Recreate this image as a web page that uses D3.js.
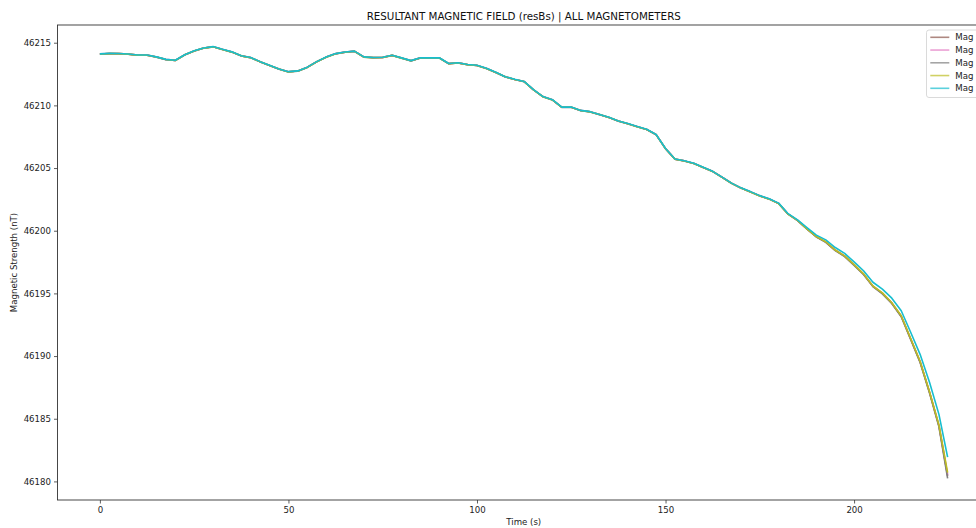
<!DOCTYPE html>
<html>
<head>
<meta charset="utf-8">
<script src="https://cdn.jsdelivr.net/npm/d3@7"></script>
<style>
  html, body { margin: 0; padding: 0; background: #ffffff; }
  svg { display: block; font-family: "DejaVu Sans", sans-serif; }
</style>
</head>
<body>
<svg id="chart" width="976" height="528"></svg>
<script>
// Sample times (s)
const timeS = [
  0, 2.5, 5, 7.5, 10, 12.5, 15, 17.5, 20, 22.5,
  25, 27.5, 30, 32.5, 35, 37.5, 40, 42.5, 45, 47.5,
  50, 52.5, 55, 57.5, 60, 62.5, 65, 67.5, 70, 72.5,
  75, 77.5, 80, 82.5, 85, 87.5, 90, 92.5, 95, 97.5,
  100, 102.5, 105, 107.5, 110, 112.5, 115, 117.5, 120, 122.5,
  125, 127.5, 130, 132.5, 135, 137.5, 140, 142.5, 145, 147.5,
  150, 152.5, 155, 157.5, 160, 162.5, 165, 167.5, 170, 172.5,
  175, 177.5, 180, 182.5, 185, 187.5, 190, 192.5, 195, 197.5,
  200, 202.5, 205, 207.5, 210, 212.5, 215, 217.5, 220, 222.5,
  224.8
];

// Resultant field per magnetometer (nT)
const magA = [
  46214.10, 46214.14, 46214.13, 46214.09, 46214.01, 46214.01, 46213.86, 46213.66, 46213.59, 46214.03,
  46214.34, 46214.57, 46214.68, 46214.46, 46214.26, 46213.95, 46213.81, 46213.48, 46213.19, 46212.90,
  46212.68, 46212.74, 46213.04, 46213.48, 46213.85, 46214.12, 46214.25, 46214.32, 46213.86, 46213.81,
  46213.83, 46213.99, 46213.78, 46213.56, 46213.79, 46213.78, 46213.79, 46213.33, 46213.39, 46213.25,
  46213.19, 46212.95, 46212.63, 46212.28, 46212.07, 46211.90, 46211.24, 46210.69, 46210.44, 46209.85,
  46209.86, 46209.59, 46209.49, 46209.27, 46209.04, 46208.75, 46208.54, 46208.30, 46208.08, 46207.67,
  46206.55, 46205.71, 46205.57, 46205.37, 46205.05, 46204.73, 46204.27, 46203.79, 46203.41, 46203.10,
  46202.78, 46202.53, 46202.17, 46201.33, 46200.82, 46200.14, 46199.51, 46199.09, 46198.44, 46197.97,
  46197.27, 46196.53, 46195.56, 46195.00, 46194.22, 46193.18, 46191.36, 46189.54, 46187.11, 46184.43,
  46180.45
];
const magB = [
  46214.11, 46214.14, 46214.14, 46214.10, 46214.01, 46214.02, 46213.86, 46213.67, 46213.59, 46214.04,
  46214.34, 46214.58, 46214.68, 46214.47, 46214.26, 46213.96, 46213.81, 46213.49, 46213.19, 46212.91,
  46212.68, 46212.75, 46213.04, 46213.49, 46213.85, 46214.13, 46214.25, 46214.33, 46213.86, 46213.82,
  46213.83, 46214.00, 46213.78, 46213.57, 46213.79, 46213.79, 46213.79, 46213.34, 46213.39, 46213.26,
  46213.19, 46212.96, 46212.63, 46212.29, 46212.07, 46211.91, 46211.24, 46210.70, 46210.44, 46209.86,
  46209.86, 46209.60, 46209.49, 46209.28, 46209.04, 46208.76, 46208.54, 46208.31, 46208.08, 46207.68,
  46206.55, 46205.72, 46205.57, 46205.38, 46205.05, 46204.74, 46204.27, 46203.80, 46203.41, 46203.11,
  46202.79, 46202.54, 46202.18, 46201.34, 46200.83, 46200.16, 46199.54, 46199.11, 46198.47, 46197.98,
  46197.29, 46196.55, 46195.57, 46195.02, 46194.24, 46193.20, 46191.38, 46189.57, 46187.13, 46184.46,
  46180.55
];
const magC = [
  46214.09, 46214.13, 46214.12, 46214.08, 46214.00, 46214.00, 46213.85, 46213.65, 46213.58, 46214.02,
  46214.33, 46214.56, 46214.67, 46214.45, 46214.25, 46213.94, 46213.80, 46213.47, 46213.18, 46212.89,
  46212.67, 46212.73, 46213.03, 46213.47, 46213.84, 46214.11, 46214.24, 46214.31, 46213.85, 46213.80,
  46213.82, 46213.98, 46213.77, 46213.55, 46213.78, 46213.77, 46213.78, 46213.32, 46213.38, 46213.24,
  46213.18, 46212.94, 46212.62, 46212.27, 46212.06, 46211.89, 46211.23, 46210.68, 46210.43, 46209.84,
  46209.85, 46209.58, 46209.48, 46209.26, 46209.03, 46208.74, 46208.53, 46208.29, 46208.07, 46207.66,
  46206.54, 46205.70, 46205.56, 46205.36, 46205.04, 46204.72, 46204.26, 46203.78, 46203.40, 46203.09,
  46202.77, 46202.52, 46202.16, 46201.32, 46200.81, 46200.13, 46199.50, 46199.07, 46198.41, 46197.94,
  46197.24, 46196.51, 46195.54, 46194.96, 46194.20, 46193.14, 46191.32, 46189.49, 46187.06, 46184.35,
  46180.24
];
const magD = [
  46214.10, 46214.13, 46214.13, 46214.09, 46214.01, 46214.00, 46213.86, 46213.66, 46213.58, 46214.03,
  46214.33, 46214.57, 46214.67, 46214.46, 46214.25, 46213.95, 46213.80, 46213.48, 46213.18, 46212.90,
  46212.67, 46212.74, 46213.03, 46213.48, 46213.84, 46214.12, 46214.24, 46214.32, 46213.85, 46213.81,
  46213.82, 46213.99, 46213.77, 46213.56, 46213.78, 46213.78, 46213.78, 46213.33, 46213.38, 46213.25,
  46213.18, 46212.95, 46212.62, 46212.28, 46212.06, 46211.90, 46211.23, 46210.69, 46210.43, 46209.85,
  46209.85, 46209.59, 46209.48, 46209.27, 46209.03, 46208.75, 46208.53, 46208.30, 46208.07, 46207.67,
  46206.54, 46205.71, 46205.56, 46205.37, 46205.04, 46204.73, 46204.26, 46203.79, 46203.40, 46203.09,
  46202.77, 46202.52, 46202.16, 46201.32, 46200.82, 46200.15, 46199.53, 46199.12, 46198.46, 46197.99,
  46197.30, 46196.56, 46195.59, 46195.04, 46194.25, 46193.22, 46191.40, 46189.59, 46187.16, 46184.50,
  46180.70
];
const magE = [
  46214.11, 46214.15, 46214.14, 46214.10, 46214.02, 46214.02, 46213.87, 46213.67, 46213.60, 46214.04,
  46214.35, 46214.58, 46214.69, 46214.47, 46214.27, 46213.96, 46213.82, 46213.49, 46213.20, 46212.91,
  46212.69, 46212.75, 46213.05, 46213.49, 46213.86, 46214.13, 46214.26, 46214.33, 46213.87, 46213.82,
  46213.84, 46214.00, 46213.79, 46213.57, 46213.80, 46213.79, 46213.80, 46213.34, 46213.40, 46213.26,
  46213.20, 46212.96, 46212.64, 46212.29, 46212.08, 46211.91, 46211.25, 46210.70, 46210.45, 46209.86,
  46209.87, 46209.60, 46209.50, 46209.28, 46209.05, 46208.76, 46208.55, 46208.31, 46208.09, 46207.68,
  46206.56, 46205.72, 46205.58, 46205.38, 46205.06, 46204.74, 46204.28, 46203.80, 46203.42, 46203.12,
  46202.80, 46202.55, 46202.20, 46201.36, 46200.87, 46200.25, 46199.65, 46199.27, 46198.66, 46198.19,
  46197.52, 46196.81, 46195.89, 46195.34, 46194.62, 46193.62, 46191.90, 46190.14, 46187.91, 46185.35,
  46181.94
];

const seriesNames = ["Mag", "Mag", "Mag", "Mag", "Mag"];
const seriesColors = ["#8c564b", "#e377c2", "#7f7f7f", "#bcbd22", "#17becf"];
const seriesValues = [magA, magB, magC, magD, magE];

const xTicks = [0, 50, 100, 150, 200];
const yTicks = [46180, 46185, 46190, 46195, 46200, 46205, 46210, 46215];

const titleText = "RESULTANT MAGNETIC FIELD (resBs) | ALL MAGNETOMETERS";
const xLabel = "Time (s)";
const yLabel = "Magnetic Strength (nT)";

// Plot frame
const W = 976, H = 528;
const plot = { left: 57.5, right: 990, top: 25, bottom: 500 };

const svg = d3.select("#chart");
svg.append("rect").attr("width", W).attr("height", H).attr("fill", "#ffffff");

// Domains padded by 5% of the data span on each side
const tExt = d3.extent(timeS);
const vExt = d3.extent(seriesValues.flat());
const tPad = (tExt[1] - tExt[0]) * 0.05;
const vPad = (vExt[1] - vExt[0]) * 0.05;

const x = d3.scaleLinear()
  .domain([tExt[0] - tPad, tExt[1] + tPad])
  .range([plot.left, plot.right]);
const y = d3.scaleLinear()
  .domain([vExt[0] - vPad, vExt[1] + vPad])
  .range([plot.bottom, plot.top]);

// Lines
const line = d3.line()
  .x((d, i) => x(timeS[i]))
  .y(d => y(d));

svg.append("defs").append("clipPath").attr("id", "plotClip")
  .append("rect")
  .attr("x", plot.left).attr("y", plot.top)
  .attr("width", plot.right - plot.left).attr("height", plot.bottom - plot.top);

const lines = svg.append("g").attr("clip-path", "url(#plotClip)");
seriesValues.forEach((vals, k) => {
  lines.append("path")
    .datum(vals)
    .attr("fill", "none")
    .attr("stroke", seriesColors[k])
    .attr("stroke-width", 1.6)
    .attr("stroke-linejoin", "round")
    .attr("d", line);
});

// Axes
const axisColor = "#333333";
const xAxis = svg.append("g")
  .attr("transform", `translate(0,${plot.bottom})`)
  .call(d3.axisBottom(x).tickValues(xTicks).tickSize(3.5).tickPadding(3).tickFormat(d3.format("d")));
const yAxis = svg.append("g")
  .attr("transform", `translate(${plot.left},0)`)
  .call(d3.axisLeft(y).tickValues(yTicks).tickSize(3.5).tickPadding(3).tickFormat(d3.format("d")));

[xAxis, yAxis].forEach(g => {
  g.select(".domain").remove();
  g.selectAll(".tick line").attr("stroke", axisColor).attr("stroke-width", 0.8);
  g.selectAll(".tick text")
    .attr("fill", "#222222")
    .style("font-family", "'DejaVu Sans', sans-serif")
    .style("font-size", "8.6px");
});

// Spines
svg.append("rect")
  .attr("x", plot.left).attr("y", plot.top)
  .attr("width", plot.right - plot.left).attr("height", plot.bottom - plot.top)
  .attr("fill", "none")
  .attr("stroke", axisColor)
  .attr("stroke-width", 0.9);

// Title and axis labels
svg.append("text")
  .attr("x", (plot.left + plot.right) / 2).attr("y", 19.5)
  .attr("text-anchor", "middle")
  .style("font-size", "10.3px")
  .attr("fill", "#111111")
  .text(titleText);

svg.append("text")
  .attr("x", (plot.left + plot.right) / 2).attr("y", 525)
  .attr("text-anchor", "middle")
  .style("font-size", "8.6px")
  .attr("fill", "#222222")
  .text(xLabel);

svg.append("text")
  .attr("transform", `translate(17,${(plot.top + plot.bottom) / 2}) rotate(-90)`)
  .attr("text-anchor", "middle")
  .style("font-size", "8.6px")
  .attr("fill", "#222222")
  .text(yLabel);

// Legend
const legend = svg.append("g").attr("transform", "translate(926.5,30)");
legend.append("rect")
  .attr("x", 0).attr("y", 0)
  .attr("width", 80).attr("height", 67.5)
  .attr("rx", 2.5)
  .attr("fill", "#ffffff").attr("fill-opacity", 0.8)
  .attr("stroke", "#d6d6d6").attr("stroke-width", 0.9);

seriesNames.forEach((name, k) => {
  const yy = 7.3 + k * 12.75;
  legend.append("line")
    .attr("x1", 3.8).attr("x2", 22.8)
    .attr("y1", yy).attr("y2", yy)
    .attr("stroke", seriesColors[k]).attr("stroke-opacity", 0.7)
    .attr("stroke-width", 1.6);
  legend.append("text")
    .attr("x", 28.8).attr("y", yy + 3.1)
    .style("font-size", "8.6px")
    .attr("fill", "#222222")
    .text(name);
});
</script>
</body>
</html>
